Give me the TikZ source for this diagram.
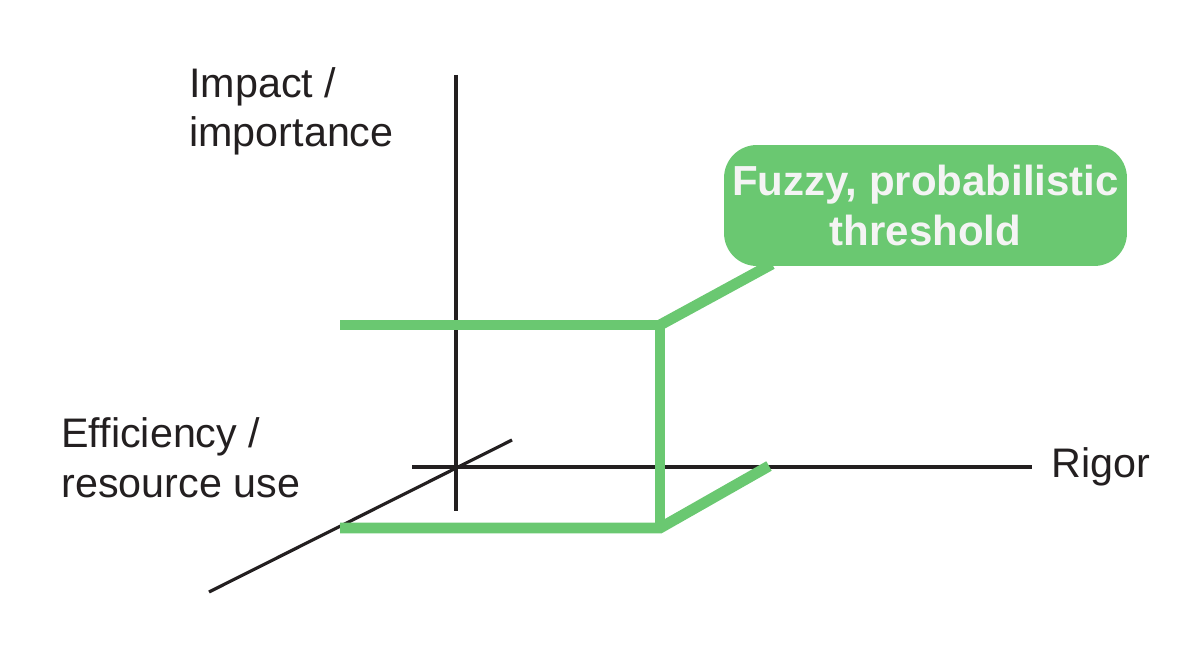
\documentclass[tikz,border=0pt]{standalone}
\usepackage{fontspec}
\setmainfont{Liberation Sans}
\definecolor{thgreen}{HTML}{6AC871}
\definecolor{axisblack}{HTML}{231F20}
\definecolor{boxtext}{HTML}{F4F4F4}
\begin{document}
\begin{tikzpicture}[x=0.02cm,y=-0.02cm,
  axis/.style={draw=axisblack,line width=1.8pt},
  greenline/.style={draw=thgreen,line width=6.2pt},
  label/.style={text=axisblack,inner sep=0pt,anchor=base west,align=left,
    font=\fontsize{23.5}{28.3}\selectfont},
  callout/.style={fill=thgreen,rounded corners=18.7pt,minimum width=8.06cm,
    minimum height=2.42cm,inner sep=0pt,text=boxtext,align=center,
    font=\bfseries\fontsize{23.9}{28.3}\selectfont}]
\useasboundingbox (0,0) rectangle (1200,662);
% axes
\coordinate (vtop) at (456,75);
\coordinate (vbot) at (456,511);
\coordinate (hl) at (412,467);
\coordinate (hr) at (1032,467);
\coordinate (dlo) at (209,592);
\coordinate (dhi) at (512,440);
\draw[axis] (vtop) -- (vbot);
\draw[axis] (hl) -- (hr);
\draw[axis] (dlo) -- (dhi);
% threshold shape
\coordinate (tl) at (340,325);
\coordinate (tr) at (660,325);
\coordinate (bl) at (340,528);
\coordinate (br) at (660,528);
\coordinate (bd) at (769,466);
\node[callout] (box) at (925.5,205.5) {Fuzzy, probabilistic\\threshold};
\coordinate (boxfoot) at (772,264);
\draw[greenline] (tl) -- (tr);
\draw[greenline] (tr) -- (br);
\draw[greenline] (bl) -- (br) -- (bd);
\draw[greenline] (tr) -- (boxfoot);
% labels
\node[label] (impact) at (189,147) {Impact /\\importance};
\node[label] (eff) at (61,497) {Efficiency /\\resource use};
\node[label] (rigor) at (1051,477) {Rigor};
\end{tikzpicture}
\end{document}
